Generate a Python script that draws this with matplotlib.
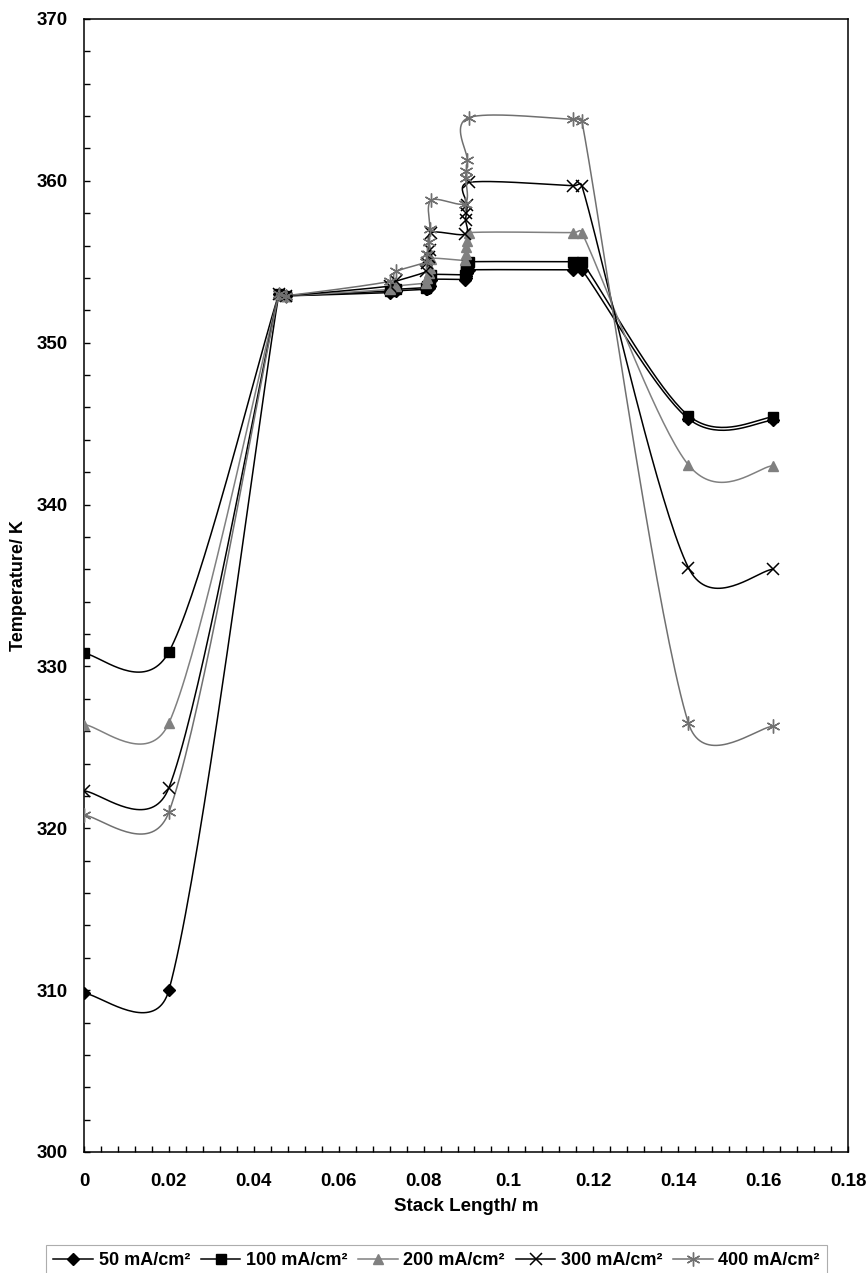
import numpy as np
import matplotlib
matplotlib.use("Agg")
import matplotlib.pyplot as plt
from matplotlib.ticker import MultipleLocator, FuncFormatter

plt.rcParams['font.family'] = ['Liberation Sans', 'DejaVu Sans']
plt.rcParams['font.weight'] = 'bold'

# stack positions (m), shared by all series
stack_x = [0, 0.02, 0.0459, 0.0475, 0.0722, 0.0736, 0.0806, 0.0809, 0.0812, 0.0815,
           0.0818, 0.0897, 0.0899, 0.0901, 0.0903, 0.0906, 0.1153, 0.1173, 0.1424, 0.1624]

# temperatures (K) per current density
t_50 = [309.8, 310.0, 353.0, 352.9, 353.1, 353.2, 353.3, 353.3, 353.4, 353.5,
        353.9, 353.9, 354.0, 354.1, 354.3, 354.5, 354.5, 354.5, 345.3, 345.2]
t_100 = [330.8, 330.9, 353.0, 352.9, 353.2, 353.3, 353.4, 353.5, 353.6, 353.8,
         354.2, 354.2, 354.4, 354.6, 354.8, 355.0, 355.0, 355.0, 345.5, 345.4]
t_200 = [326.4, 326.5, 353.0, 352.9, 353.3, 353.5, 353.7, 354.0, 354.3, 354.6,
         355.2, 355.1, 355.5, 355.9, 356.3, 356.8, 356.8, 356.8, 342.45, 342.4]
t_300 = [322.3, 322.5, 353.0, 352.9, 353.5, 353.8, 354.4, 354.9, 355.3, 355.7,
         356.8, 356.7, 357.6, 358.0, 358.5, 359.9, 359.7, 359.7, 336.1, 336.0]
t_400 = [320.8, 321.0, 353.0, 352.9, 353.8, 354.4, 355.0, 355.5, 356.2, 357.0,
         358.8, 358.6, 360.2, 360.6, 361.3, 363.9, 363.8, 363.7, 326.5, 326.3]

labels = ['50 mA/cm²', '100 mA/cm²', '200 mA/cm²', '300 mA/cm²', '400 mA/cm²']


def smooth_curve(ax, xs, ys, n=40, cap=0.6):
    """Spreadsheet-style smoothed line: cubic Bezier segments built in screen space."""
    pts = ax.transData.transform(np.column_stack([xs, ys]))
    m = len(pts)
    t = np.linspace(0, 1, n)[:, None]
    out = []
    for i in range(m - 1):
        p0 = pts[max(i - 1, 0)]
        p1 = pts[i]
        p2 = pts[i + 1]
        p3 = pts[min(i + 2, m - 1)]
        d12 = np.hypot(*(p2 - p1))
        h1 = (p2 - p0) / 6.0
        h2 = (p3 - p1) / 6.0
        for h in (h1, h2):
            L = np.hypot(*h)
            if L > cap * d12 and L > 0:
                h *= cap * d12 / L
        c1 = p1 + h1
        c2 = p2 - h2
        seg = (1 - t) ** 3 * p1 + 3 * (1 - t) ** 2 * t * c1 + 3 * (1 - t) * t ** 2 * c2 + t ** 3 * p2
        out.append(seg if i == 0 else seg[1:])
    curve = ax.transData.inverted().transform(np.vstack(out))
    return curve[:, 0], curve[:, 1]


fig = plt.figure(figsize=(8.68, 12.73), dpi=100)
ax = fig.add_axes([84 / 868, 1 - 1152 / 1273, 764 / 868, 1133 / 1273])
ax.set_xlim(0, 0.18)
ax.set_ylim(300, 370)

styles = [
    dict(color='black', marker='D', ms=6, lw=1.1),
    dict(color='black', marker='s', ms=6.5, lw=1.1),
    dict(color='#808080', marker='^', ms=7.5, lw=1.1),
    dict(color='black', marker='x', ms=8, lw=1.1, mew=1.1),
    dict(color='#707070', marker=(6, 2, 0), ms=10, lw=1.1, mew=1.0),
]

handles = []
for ys, lab, st in zip([t_50, t_100, t_200, t_300, t_400], labels, styles):
    cx, cy = smooth_curve(ax, stack_x, ys)
    ax.plot(cx, cy, color=st['color'], lw=st['lw'], zorder=2)
    ax.plot(stack_x, ys, ls='none', marker=st['marker'], ms=st['ms'], color=st['color'],
            mew=st.get('mew', 1.0), zorder=3)
    h, = ax.plot([], [], color=st['color'], lw=st['lw'], marker=st['marker'], ms=st['ms'],
                 mew=st.get('mew', 1.0))
    handles.append(h)

ax.xaxis.set_major_locator(MultipleLocator(0.02))
ax.xaxis.set_minor_locator(MultipleLocator(0.004))
ax.yaxis.set_major_locator(MultipleLocator(10))
ax.yaxis.set_minor_locator(MultipleLocator(2))
ax.xaxis.set_major_formatter(FuncFormatter(lambda v, p: '%g' % round(v, 4)))
ax.tick_params(which='both', direction='in', length=4, width=1, top=False, right=False)
ax.tick_params(axis='x', which='major', pad=15, labelsize=13.5)
ax.tick_params(axis='y', which='major', pad=12, labelsize=13.5)
for s in ax.spines.values():
    s.set_linewidth(1.1)

ax.set_xlabel('Stack Length/ m', fontsize=13.5, fontweight='bold')
ax.xaxis.set_label_coords(0.5, -0.041)
ax.set_ylabel('Temperature/ K', fontsize=13, fontweight='bold')
ax.yaxis.set_label_coords(-0.074, 0.5)

leg = fig.legend(handles, labels, loc='upper center', bbox_to_anchor=(0.503, 1 - 1245 / 1273),
                 ncol=5, frameon=True, fancybox=False, edgecolor='#999999',
                 fontsize=13, handlelength=2.2, handletextpad=0.3, columnspacing=0.6,
                 borderpad=0.4, borderaxespad=0)
leg.get_frame().set_linewidth(0.8)

fig.savefig('out.png', dpi=100)
